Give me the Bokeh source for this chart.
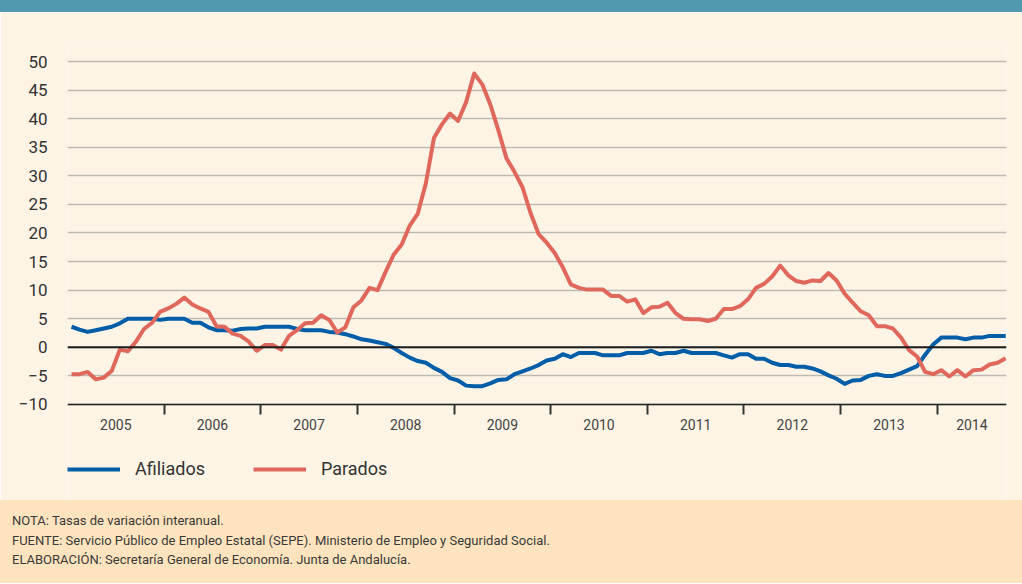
from bokeh.plotting import figure
from bokeh.models import (Range1d, FixedTicker, Span, Legend, LegendItem, Div, ColumnDataSource)
from bokeh.layouts import column
from bokeh.embed import file_html
from bokeh.resources import INLINE
import numpy as np

years = ["2005", "2006", "2007", "2008", "2009", "2010", "2011", "2012", "2013", "2014"]
y_ticks = [-10, -5, 0, 5, 10, 15, 20, 25, 30, 35, 40, 45, 50]

# Monthly year-on-year rates, Jan 2005 - Sep 2014
afiliados = [3.6, 3.1, 2.7, 3.0, 3.3, 3.6, 4.2, 5.0, 5.0, 5.0, 5.0, 4.8,
             5.0, 5.0, 5.0, 4.3, 4.3, 3.5, 3.0, 3.0, 2.9, 3.2, 3.3, 3.3,
             3.6, 3.6, 3.6, 3.6, 3.2, 3.0, 3.0, 3.0, 2.7, 2.6, 2.3, 1.9,
             1.4, 1.2, 0.9, 0.6, -0.1, -1.0, -1.8, -2.4, -2.7, -3.6, -4.3, -5.4,
             -5.8, -6.7, -6.8, -6.8, -6.3, -5.7, -5.6, -4.7, -4.2, -3.7, -3.1, -2.3,
             -2.0, -1.2, -1.7, -1.0, -1.0, -1.0, -1.4, -1.4, -1.4, -1.0, -1.0, -1.0,
             -0.6, -1.2, -1.0, -1.0, -0.6, -1.0, -1.0, -1.0, -1.0, -1.4, -1.8, -1.2,
             -1.2, -2.0, -2.0, -2.7, -3.1, -3.1, -3.4, -3.4, -3.7, -4.2, -4.9, -5.5,
             -6.4, -5.8, -5.7, -5.0, -4.7, -5.0, -5.0, -4.5, -3.9, -3.3, -1.3, 0.5,
             1.7, 1.7, 1.7, 1.4, 1.7, 1.7, 2.0, 2.0, 2.0]

parados = [-4.7, -4.7, -4.3, -5.6, -5.3, -4.1, -0.4, -0.7, 1.0, 3.2, 4.3, 6.2,
           6.8, 7.6, 8.7, 7.5, 6.8, 6.2, 3.7, 3.6, 2.4, 2.0, 1.0, -0.6,
           0.4, 0.4, -0.4, 2.0, 3.0, 4.2, 4.3, 5.6, 4.8, 2.6, 3.5, 7.0,
           8.2, 10.4, 10.0, 13.2, 16.2, 18.0, 21.3, 23.4, 28.7, 36.6, 39.0, 40.9,
           39.6, 42.9, 47.9, 46.0, 42.5, 38.0, 33.1, 30.7, 28.0, 23.5, 19.8, 18.3,
           16.5, 14.0, 11.0, 10.4, 10.1, 10.1, 10.1, 9.0, 9.0, 8.0, 8.4, 6.0,
           7.0, 7.1, 7.8, 6.0, 5.0, 4.9, 4.9, 4.6, 5.0, 6.7, 6.7, 7.2,
           8.4, 10.4, 11.1, 12.4, 14.3, 12.6, 11.6, 11.3, 11.7, 11.6, 13.0, 11.7,
           9.4, 7.8, 6.3, 5.6, 3.7, 3.7, 3.3, 1.7, -0.5, -1.6, -4.3, -4.7,
           -4.0, -5.1, -4.0, -5.1, -4.0, -3.9, -3.0, -2.7, -1.9]

FONT = "Roboto"
BG = "#FEF4E6"

months = np.arange(len(afiliados)) + 0.5
x_end = len(afiliados) - 0.4
src = ColumnDataSource(dict(x=months, a=afiliados, p=parados))

# frame extends below the axis to hold the legend; x axis pinned at y = -10
p = figure(frame_width=939, frame_height=453, min_border_top=35, min_border_left=67,
           min_border_right=16, min_border_bottom=0,
           x_range=Range1d(0, x_end), y_range=Range1d(-26.795, 52.45),
           output_backend="svg", toolbar_location=None,
           background_fill_color=BG, border_fill_color=BG, outline_line_color=None)

# axes
year_bounds = [12 * k for k in range(1, len(years))]
centers = [12 * k + 6 for k in range(len(years) - 1)] + [(year_bounds[-1] + x_end) / 2]
p.xaxis.fixed_location = y_ticks[0]
p.xaxis.ticker = FixedTicker(ticks=centers, minor_ticks=year_bounds)
p.xaxis.major_label_overrides = {c: y for c, y in zip(centers, years)}
p.xaxis.major_tick_line_color = None
p.xaxis.major_tick_out = 0
p.xaxis.major_tick_in = 0
p.xaxis.minor_tick_out = 10
p.xaxis.minor_tick_in = 0
p.xaxis.minor_tick_line_color = "#333333"
p.xaxis.minor_tick_line_width = 2
p.xaxis.axis_line_color = "#222222"
p.xaxis.axis_line_width = 1.5
p.xaxis.major_label_standoff = 5
p.xaxis.major_label_text_font = FONT
p.xaxis.major_label_text_font_size = "14px"
p.xaxis.major_label_text_color = "#444444"

p.yaxis.ticker = FixedTicker(ticks=y_ticks)
p.yaxis.axis_line_color = None
p.yaxis.major_tick_line_color = None
p.yaxis.minor_tick_line_color = None
p.yaxis.major_label_standoff = 14
p.yaxis.major_label_text_font = FONT
p.yaxis.major_label_text_font_size = "17px"
p.yaxis.major_label_text_color = "#333333"

p.xgrid.grid_line_color = None
p.ygrid.ticker = FixedTicker(ticks=y_ticks)
p.ygrid.grid_line_color = "#BDBAB4"
p.ygrid.grid_line_width = 1.5

p.add_layout(Span(location=0, dimension="width", line_color="#1E1E1E", line_width=2))

ra = p.line("x", "a", source=src, line_color="#005EA8", line_width=4, line_join="round")
rp = p.line("x", "p", source=src, line_color="#E0675C", line_width=4, line_join="round")

legend = Legend(items=[LegendItem(label="Afiliados", renderers=[ra]),
                       LegendItem(label="Parados", renderers=[rp])],
                orientation="horizontal", location=(0, 21),
                glyph_width=53, glyph_height=20, label_standoff=15, spacing=48,
                padding=0, margin=0, border_line_color=None, background_fill_alpha=0,
                label_text_font=FONT, label_text_font_size="18px", label_text_color="#333333")
p.add_layout(legend, "center")

top_bar = Div(text="", width=1022, height=12, margin=0,
              styles={"background-color": "#5199B1"})

footer_html = (
    f'<div style="font-family:\'{FONT}\',sans-serif;font-size:13px;color:#3A3A3A;'
    'line-height:19.5px;padding:11px 0 0 12px;">'
    'NOTA: Tasas de variación interanual.<br>'
    'FUENTE: Servicio Público de Empleo Estatal (SEPE). Ministerio de Empleo y Seguridad Social.<br>'
    'ELABORACIÓN: Secretaría General de Economía. Junta de Andalucía.'
    '</div>'
)
footer = Div(text=footer_html, width=1022, height=83, margin=0,
             styles={"background-color": "#FEE4BE"})

layout = column(top_bar, p, footer, spacing=0)

open("out.html", "w").write(file_html(layout, INLINE))
